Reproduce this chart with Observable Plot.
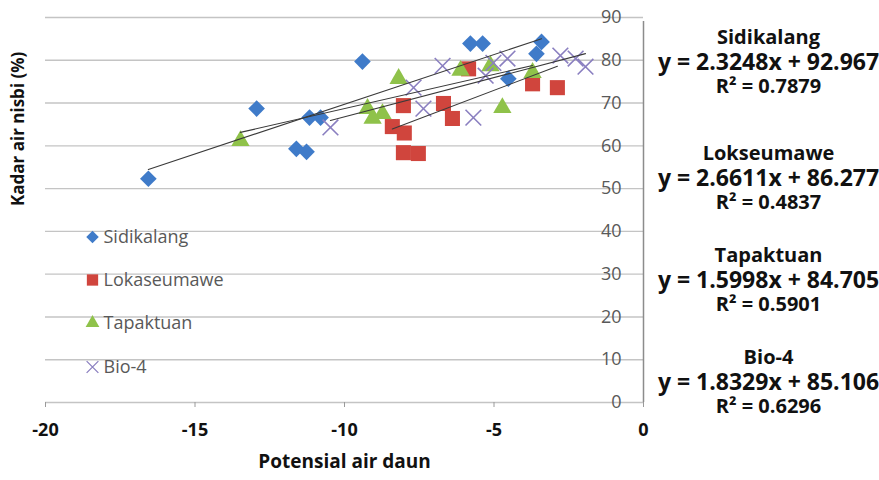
<!DOCTYPE html>
<html><head><meta charset="utf-8">
<script src="https://cdn.jsdelivr.net/npm/d3@7"></script>
<script src="https://cdn.jsdelivr.net/npm/@observablehq/plot@0.6"></script>
<style>body{margin:0;background:#fff}#chart svg{display:block}</style>
</head><body><div id="chart"></div>
<script>
// ---- data ----
const seriesNames = ["Sidikalang", "Lokaseumawe", "Tapaktuan", "Bio-4"];
const eqTitles = ["Sidikalang", "Lokseumawe", "Tapaktuan", "Bio-4"];
const slopes = [2.3248, 2.6611, 1.5998, 1.8329];
const intercepts = [92.967, 86.277, 84.705, 85.106];
const r2Values = ["0.7879", "0.4837", "0.5901", "0.6296"];

const sidikalangX = [-16.56, -12.94, -11.17, -10.80, -11.61, -11.27, -9.40, -5.79, -5.38, -3.41, -3.58, -4.52];
const sidikalangY = [52.3, 68.7, 66.6, 66.6, 59.3, 58.6, 79.7, 83.9, 83.9, 84.3, 81.5, 75.7];
const lokaseumaweX = [-8.03, -8.40, -8.00, -8.03, -7.53, -6.69, -6.39, -5.85, -3.71, -2.88];
const lokaseumaweY = [69.4, 64.5, 63.0, 58.4, 58.2, 69.9, 66.4, 78.0, 74.5, 73.6];
const tapaktuanX = [-13.48, -9.23, -8.73, -9.06, -8.19, -6.12, -5.12, -4.72, -3.71];
const tapaktuanY = [61.2, 68.7, 67.5, 66.4, 75.7, 77.6, 78.7, 68.9, 77.1];
const bio4X = [-10.47, -7.69, -7.36, -6.72, -5.69, -5.28, -5.02, -4.55, -2.78, -2.27, -1.94];
const bio4Y = [64.3, 73.6, 68.7, 78.7, 66.6, 76.4, 79.4, 80.4, 81.1, 80.4, 78.5];

const xTicks = [-20, -15, -10, -5, 0];
const yTicks = [0, 10, 20, 30, 40, 50, 60, 70, 80, 90];
const xLabel = "Potensial air daun";
const yLabel = "Kadar air nisbi (%)";

// ---- styles ----
const colors = ["#3f7bc9", "#d0453d", "#8fc24a", "#8a7fc0"];
const symbols = ["diamond2", "square", "triangle", "times"];
const radii = [7.5, 8.5, 6.8, 7.2];

const xs = [sidikalangX, lokaseumaweX, tapaktuanX, bio4X];
const ys = [sidikalangY, lokaseumaweY, tapaktuanY, bio4Y];

const points = [];
xs.forEach((arr, s) => arr.forEach((x, i) => points.push({s, x, y: ys[s][i]})));

const trend = [];
xs.forEach((arr, s) => {
  const [a, b] = d3.extent(arr);
  [a, b].forEach(x => trend.push({s, x, y: slopes[s] * x + intercepts[s]}));
});

const font = "'Open Sans', 'Liberation Sans', sans-serif";

const pointMarks = seriesNames.map((name, s) => Plot.dot(points.filter(d => d.s === s), {
  x: "x", y: "y", symbol: symbols[s], r: radii[s],
  fill: s === 3 ? "none" : colors[s],
  stroke: s === 3 ? colors[s] : "none",
  strokeWidth: s === 3 ? 1.6 : 0
}));

const trendMarks = seriesNames.map((name, s) => Plot.line(trend.filter(d => d.s === s), {
  x: "x", y: "y", stroke: "#3a3a3a", strokeWidth: 1.1
}));

const legendDy = [27, 70, 113, 157];
const legendMarks = seriesNames.flatMap((name, s) => [
  Plot.dot([name], {frameAnchor: "left", dx: 47, dy: legendDy[s], symbol: symbols[s],
    r: radii[s] * 0.75,
    fill: s === 3 ? "none" : colors[s], stroke: s === 3 ? colors[s] : "none", strokeWidth: s === 3 ? 1.3 : 0}),
  Plot.text([name], {frameAnchor: "left", dx: 58, dy: legendDy[s], text: d => d,
    textAnchor: "start", fill: "#595959", fontSize: 18, fontFamily: font})
]);

const eqDy = [45, 161, 263, 365];
const eqDx = 125;
const eqMarks = eqTitles.flatMap((t, s) => [
  Plot.text([t], {frameAnchor: "top-right", dx: eqDx, dy: eqDy[s] - 25, text: d => d,
    textAnchor: "middle", lineAnchor: "middle", fontSize: 20, fontWeight: "bold", fill: "#111", fontFamily: font}),
  Plot.text([`y = ${slopes[s].toFixed(4)}x + ${intercepts[s].toFixed(3)}`], {frameAnchor: "top-right", dx: eqDx,
    dy: eqDy[s], text: d => d, textAnchor: "middle", lineAnchor: "middle", fontSize: 23, fontWeight: "bold",
    fill: "#111", fontFamily: font}),
  Plot.text([`R² = ${r2Values[s]}`], {frameAnchor: "top-right", dx: eqDx, dy: eqDy[s] + 24, text: d => d,
    textAnchor: "middle", lineAnchor: "middle", fontSize: 20, fontWeight: "bold", fill: "#111", fontFamily: font})
]);

const chart = Plot.plot({
  width: 879,
  height: 480,
  marginLeft: 45,
  marginRight: 236,
  marginTop: 17,
  marginBottom: 78,
  style: {background: "#fff", overflow: "visible"},
  x: {domain: [-20, 0], axis: null},
  y: {domain: [0, 90], axis: null},
  marks: [
    Plot.ruleY(yTicks, {x1: -20, x2: 0, stroke: "#c4c4c4", strokeWidth: 1.4}),
    Plot.ruleX([0], {y1: 0, y2: 90, stroke: "#8c8c8c", strokeWidth: 1.5, insetBottom: -4}),
    Plot.text(yTicks, {x: 0, y: d => d, text: d => String(d), textAnchor: "end", dx: -22,
      fill: "#595959", fontSize: 18, fontFamily: font}),
    Plot.axisX(xTicks, {tickSize: 5, tickPadding: 16, stroke: "#9a9a9a", fill: "#111", fontSize: 18,
      fontWeight: "bold", fontFamily: font, label: null, tickFormat: d => String(d)}),
    Plot.text([xLabel], {frameAnchor: "bottom", dy: 65, text: d => d, fontSize: 19, fontWeight: "bold",
      fill: "#111", fontFamily: font}),
    Plot.text([yLabel], {frameAnchor: "left", dx: -27, dy: -4, rotate: -90, text: d => d, fontSize: 17,
      fontWeight: "bold", fill: "#111", fontFamily: font}),
    ...pointMarks,
    ...trendMarks,
    ...legendMarks,
    ...eqMarks
  ]
});
document.getElementById("chart").append(chart);
</script>
</body></html>
